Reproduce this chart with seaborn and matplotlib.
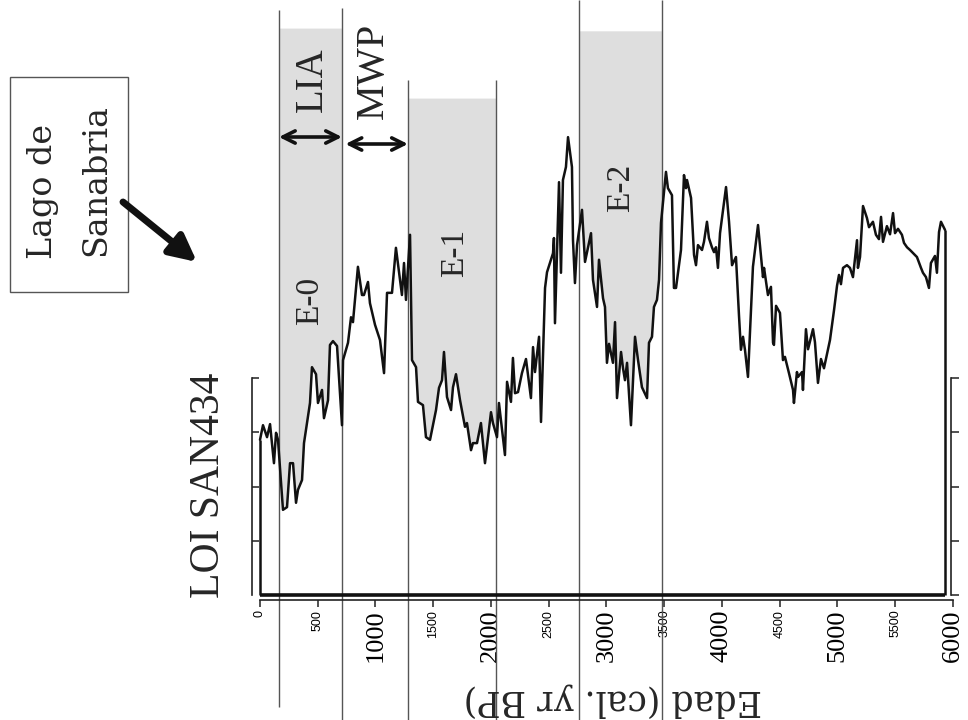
import numpy as np
import matplotlib
matplotlib.use('Agg')
import matplotlib.pyplot as plt
import seaborn as sns
from matplotlib.patches import Rectangle

# age (cal. yr BP) and LOI record of core SAN434
ages = [0, 26, 61, 87, 121, 139, 156, 199, 234, 260,
        286, 312, 329, 364, 381, 433, 450, 485, 502, 537,
        554, 589, 606, 632, 667, 710, 719, 762, 788, 805,
        848, 883, 900, 935, 952, 996, 1039, 1074, 1100, 1143,
        1177, 1229, 1247, 1264, 1299, 1316, 1351, 1368, 1411, 1437,
        1472, 1524, 1550, 1576, 1593, 1619, 1654, 1671, 1697, 1732,
        1775, 1792, 1827, 1844, 1879, 1913, 1948, 2000, 2017, 2052,
        2069, 2121, 2139, 2173, 2190, 2208, 2234, 2268, 2303, 2346,
        2364, 2381, 2416, 2433, 2468, 2485, 2537, 2545, 2554, 2589,
        2606, 2623, 2649, 2667, 2701, 2710, 2727, 2745, 2788, 2814,
        2866, 2883, 2918, 2935, 2970, 2987, 3004, 3022, 3056, 3074,
        3091, 3126, 3143, 3160, 3178, 3212, 3247, 3273, 3307, 3351,
        3368, 3394, 3411, 3437, 3455, 3472, 3515, 3532, 3567, 3584,
        3602, 3645, 3671, 3688, 3697, 3732, 3758, 3775, 3792, 3827,
        3844, 3870, 3887, 3913, 3931, 3948, 3965, 3983, 4035, 4061,
        4087, 4121, 4147, 4164, 4182, 4199, 4225, 4268, 4312, 4355,
        4364, 4398, 4424, 4442, 4450, 4468, 4502, 4528, 4545, 4580,
        4615, 4623, 4649, 4658, 4693, 4701, 4727, 4745, 4788, 4805,
        4831, 4857, 4883, 4935, 4970, 4996, 5013, 5030, 5048, 5082,
        5108, 5134, 5169, 5177, 5195, 5221, 5255, 5273, 5307, 5333,
        5359, 5377, 5394, 5428, 5455, 5481, 5498, 5524, 5558, 5576,
        5602, 5628, 5688, 5723, 5740, 5766, 5792, 5809, 5844, 5861,
        5879, 5896, 5931]

loi = [2.86, 3.13, 2.91, 3.15, 2.43, 2.99, 2.86, 1.57, 1.62, 2.43,
       2.43, 1.70, 1.94, 2.12, 2.80, 3.54, 4.20, 4.07, 3.54, 3.78,
       3.26, 3.59, 4.61, 4.68, 4.59, 3.13, 4.33, 4.65, 5.12, 5.03,
       6.05, 5.53, 5.53, 5.77, 5.38, 4.98, 4.70, 4.09, 5.57, 5.57,
       6.40, 5.53, 6.12, 5.44, 6.64, 4.33, 4.20, 3.56, 3.50, 2.91,
       2.86, 3.41, 3.82, 3.96, 4.48, 3.65, 3.41, 3.83, 4.07, 3.59,
       3.10, 3.17, 2.67, 2.80, 2.80, 3.17, 2.43, 3.37, 3.17, 2.91,
       3.54, 2.58, 3.93, 3.56, 4.37, 3.72, 3.74, 4.09, 4.35, 3.63,
       4.57, 4.11, 4.76, 3.19, 5.66, 5.95, 6.30, 6.58, 5.01, 7.61,
       5.94, 7.65, 7.89, 8.44, 7.89, 6.54, 5.75, 6.45, 7.10, 6.14,
       6.67, 5.81, 5.31, 6.18, 5.47, 5.31, 4.28, 4.63, 4.28, 5.03,
       3.63, 4.48, 4.18, 3.96, 4.28, 3.13, 4.76, 4.33, 3.83, 3.63,
       4.65, 4.76, 5.31, 5.44, 5.81, 6.86, 7.80, 7.50, 7.37, 5.66,
       5.66, 6.36, 7.74, 7.50, 7.65, 7.32, 6.27, 6.08, 6.45, 6.36,
       6.51, 6.88, 6.58, 6.41, 6.32, 6.41, 6.03, 6.67, 7.52, 6.88,
       6.08, 6.23, 5.16, 4.52, 4.76, 4.52, 4.02, 6.05, 6.82, 5.86,
       6.03, 5.53, 5.68, 4.65, 4.61, 5.33, 5.20, 4.33, 4.39, 4.09,
       3.78, 3.54, 4.11, 4.02, 4.11, 3.78, 4.90, 4.53, 4.90, 4.66,
       3.91, 4.35, 4.18, 4.70, 5.25, 5.70, 5.90, 5.73, 6.03, 6.08,
       6.03, 5.86, 6.54, 6.03, 6.23, 7.17, 6.95, 6.78, 6.88, 6.64,
       6.56, 6.97, 6.51, 6.80, 6.65, 7.04, 6.67, 6.75, 6.64, 6.49,
       6.41, 6.36, 6.23, 6.03, 5.94, 5.86, 5.66, 6.12, 6.25, 5.94,
       6.69, 6.88, 6.73]

# cold events (shaded) and their labels
event_names = ['E-0', 'E-1', 'E-2']
event_start = [164, 1281, 2762]
event_end = [710, 2043, 3481]
event_top = [10.45, 9.16, 10.40]

x_ticks = list(range(0, 6001, 500))
y_ticks = [0, 1, 2, 3, 4]

sns.set_style('white')
plt.rcParams['font.family'] = ['DejaVu Sans']

fig = plt.figure(figsize=(9.68, 7.2), dpi=100)
ax = fig.add_axes([0, 0, 1, 1])
ax.set_xlim(-2251, 6130)
ax.set_ylim(-2.304, 10.968)


def fx(px):
    return px / 968


def fy(py):
    return 1 - py / 720


# grey bands above the curve
ages_arr = np.array(ages)
loi_arr = np.array(loi)
for a, b, top in zip(event_start, event_end, event_top):
    xs = np.linspace(a, b, 600)
    ys = np.interp(xs, ages_arr, loi_arr)
    ax.fill_between(xs, ys, top, color='#dedede', lw=0, zorder=1)

# boundary lines of the bands
line_top = [10.78, 10.82, 9.49, 9.49, 10.97, 10.97]
line_bot = [-2.06, -2.31, -2.31, -2.31, -2.31, -2.31]
edges = [event_start[0], event_end[0], event_start[1], event_end[1],
         event_start[2], event_end[2]]
ax.vlines(edges, line_bot, line_top, color='#555555', lw=1.0, zorder=2)

# curve
sns.lineplot(x=ages, y=loi, ax=ax, color='#111111', lw=1.8,
             estimator=None, sort=False, zorder=4)
ax.vlines([ages[0], ages[-1]], 0, [loi[0], loi[-1]], color='#111111',
          lw=1.8, zorder=4)
ax.hlines(0, ages[0], ages[-1], color='#111111', lw=2.6, zorder=4)

# axes
ax.spines['top'].set_visible(False)
ax.spines['right'].set_visible(False)
ax.spines['left'].set_position(('data', -69))
ax.spines['left'].set_bounds(0, 4)
ax.spines['bottom'].set_position(('data', -0.092))
ax.spines['bottom'].set_bounds(0, 6000)
for s in ['left', 'bottom']:
    ax.spines[s].set_linewidth(1.2)
    ax.spines[s].set_color('#222222')

ax.set_yticks(y_ticks[1:])
ax.tick_params(axis='y', direction='in', length=5, width=1.1,
               left=True, labelleft=False, colors='#222222')
ax.set_xticks(x_ticks)
ax.set_xticklabels([str(t) for t in x_ticks], rotation=90)
ax.tick_params(axis='x', direction='out', length=5, width=1.1, pad=2,
               bottom=True, colors='#222222')
for t, lab in zip(x_ticks, ax.get_xticklabels()):
    lab.set_color('black')
    if t % 1000 == 0 and t > 0:
        lab.set_fontfamily('Liberation Serif')
        lab.set_fontsize(19)
    else:
        lab.set_fontfamily('Liberation Sans')
        lab.set_fontsize(9)

ax2 = ax.twinx()
ax2.set_ylim(ax.get_ylim())
for s in ['top', 'left', 'bottom']:
    ax2.spines[s].set_visible(False)
ax2.spines['right'].set_position(('data', 5983))
ax2.spines['right'].set_bounds(0, 4)
ax2.spines['right'].set_linewidth(1.2)
ax2.spines['right'].set_color('#222222')
ax2.set_yticks(y_ticks)
ax2.tick_params(axis='y', direction='out', length=6, width=1.1,
                right=True, labelright=False, colors='#222222')

# axis title (upside down, as in the original figure)
ax.text(fx(613), fy(700), 'Edad (cal. yr BP)', transform=ax.transAxes,
        rotation=180, ha='center', va='center', fontsize=25,
        family='DejaVu Serif')

ax.text(fx(209), fy(485), 'LOI SAN434', transform=ax.transAxes,
        rotation=90, ha='center', va='center', fontsize=30,
        family='Liberation Serif')

# event labels
label_pos = [(310, 301), (455, 253), (621, 188)]
for name, (px, py) in zip(event_names, label_pos):
    ax.text(fx(px), fy(py), name, transform=ax.transAxes, rotation=90,
            ha='center', va='center', fontsize=24, family='Liberation Serif')

ax.text(fx(312), fy(80), 'LIA', transform=ax.transAxes, rotation=90,
        ha='center', va='center', fontsize=28, family='Liberation Serif')
ax.text(fx(373), fy(71), 'MWP', transform=ax.transAxes, rotation=90,
        ha='center', va='center', fontsize=29, family='Liberation Serif')

ax.annotate('', xy=(event_end[0], fy(137)), xytext=(event_start[0], fy(137)),
            xycoords=('data', 'axes fraction'),
            arrowprops=dict(arrowstyle='<->', lw=2.6, color='#111111',
                            mutation_scale=22, shrinkA=0, shrinkB=0))
ax.annotate('', xy=(event_start[1], fy(144)), xytext=(event_end[0] + 30, fy(144)),
            xycoords=('data', 'axes fraction'),
            arrowprops=dict(arrowstyle='<->', lw=2.6, color='#111111',
                            mutation_scale=22, shrinkA=0, shrinkB=0))

# site box
ax.add_patch(Rectangle((fx(10), fy(292)), fx(118), 215 / 720,
                       transform=ax.transAxes, fill=False,
                       edgecolor='#555555', lw=1.0))
ax.text(fx(43), fy(191), 'Lago de', transform=ax.transAxes, rotation=90,
        ha='center', va='center', fontsize=24, family='DejaVu Serif')
ax.text(fx(96), fy(180), 'Sanabria', transform=ax.transAxes, rotation=90,
        ha='center', va='center', fontsize=24, family='DejaVu Serif')
ax.annotate('', xy=(fx(197), fy(262)), xytext=(fx(123), fy(202)),
            xycoords='axes fraction',
            arrowprops=dict(arrowstyle='-|>', lw=5, color='#111111',
                            mutation_scale=40, shrinkA=0, shrinkB=0))

fig.savefig('out.png', dpi=100)
